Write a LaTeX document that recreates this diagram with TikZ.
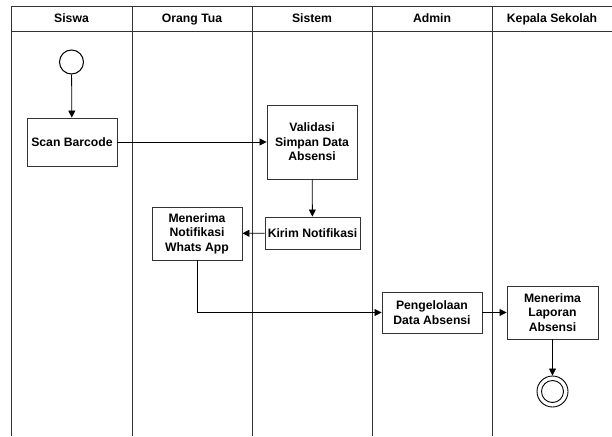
\documentclass[tikz,border=0pt]{standalone}
\usepackage{fontspec}
\setmainfont{Liberation Sans}
\usetikzlibrary{arrows.meta}
\begin{document}
\begin{tikzpicture}[x=1pt,y=-1pt,
  lane/.style={draw=black!80, line width=0.9pt},
  act/.style={draw=black!80, line width=0.9pt, fill=white, align=center, inner sep=1pt,
    font=\fontsize{12.2}{14.5}\selectfont\bfseries},
  hdr/.style={font=\fontsize{12.2}{14.5}\selectfont\bfseries, text height=9pt, text depth=2.5pt, inner sep=0pt},
  flow/.style={draw=black, line width=0.8pt, -{Triangle[width=7pt,length=7pt]}},
  plain/.style={draw=black, line width=0.8pt}]
\useasboundingbox (0,0) rectangle (612,436);
% swimlanes
\draw[lane] (11,436) -- (11,6) -- (612,6);
\draw[lane] (11,31) -- (612,31);
\foreach \xx in {132,252,372,492} \draw[lane] (\xx,6) -- (\xx,436);
\node[hdr] (h1) at (71.5,19) {Siswa};
\node[hdr] (h2) at (192,19) {Orang Tua};
\node[hdr] (h3) at (312,19) {Sistem};
\node[hdr] (h4) at (432,19) {Admin};
\node[hdr] (h5) at (552,19) {Kepala Sekolah};
% nodes
\node[circle, draw=black, line width=1pt, minimum size=24pt, inner sep=0pt] (start) at (71.5,62) {};
\node[act, minimum width=90pt, minimum height=48pt] (scan) at (72,142) {Scan Barcode};
\node[act, minimum width=90pt, minimum height=74pt] (valid) at (312,142) {Validasi\\Simpan Data\\Absensi};
\node[act, minimum width=95pt, minimum height=32pt] (kirim) at (312.5,233) {Kirim Notifikasi};
\node[act, minimum width=90pt, minimum height=53pt] (notif) at (197,233.5) {Menerima\\Notifikasi\\Whats App};
\node[act, minimum width=100pt, minimum height=41pt] (peng) at (432,312.5) {Pengelolaan\\Data Absensi};
\node[act, minimum width=91pt, minimum height=53pt] (lap) at (552.5,312.5) {Menerima\\Laporan\\Absensi};
\node[circle, draw=black, line width=0.9pt, minimum size=31pt, inner sep=0pt] (end) at (552.5,391.5) {};
\node[circle, draw=black, line width=0.9pt, minimum size=22pt, inner sep=0pt] (endin) at (end.center) {};
% connectors
\draw[flow] (start) -- (scan);
\draw[flow] (scan) -- (valid);
\draw[flow] (valid) -- (kirim);
\draw[flow] (kirim) -- (notif);
\draw[flow] (notif.south) |- (peng.west);
\draw[flow] (peng) -- (lap);
\draw[flow] (lap) -- (end);
\end{tikzpicture}
\end{document}
